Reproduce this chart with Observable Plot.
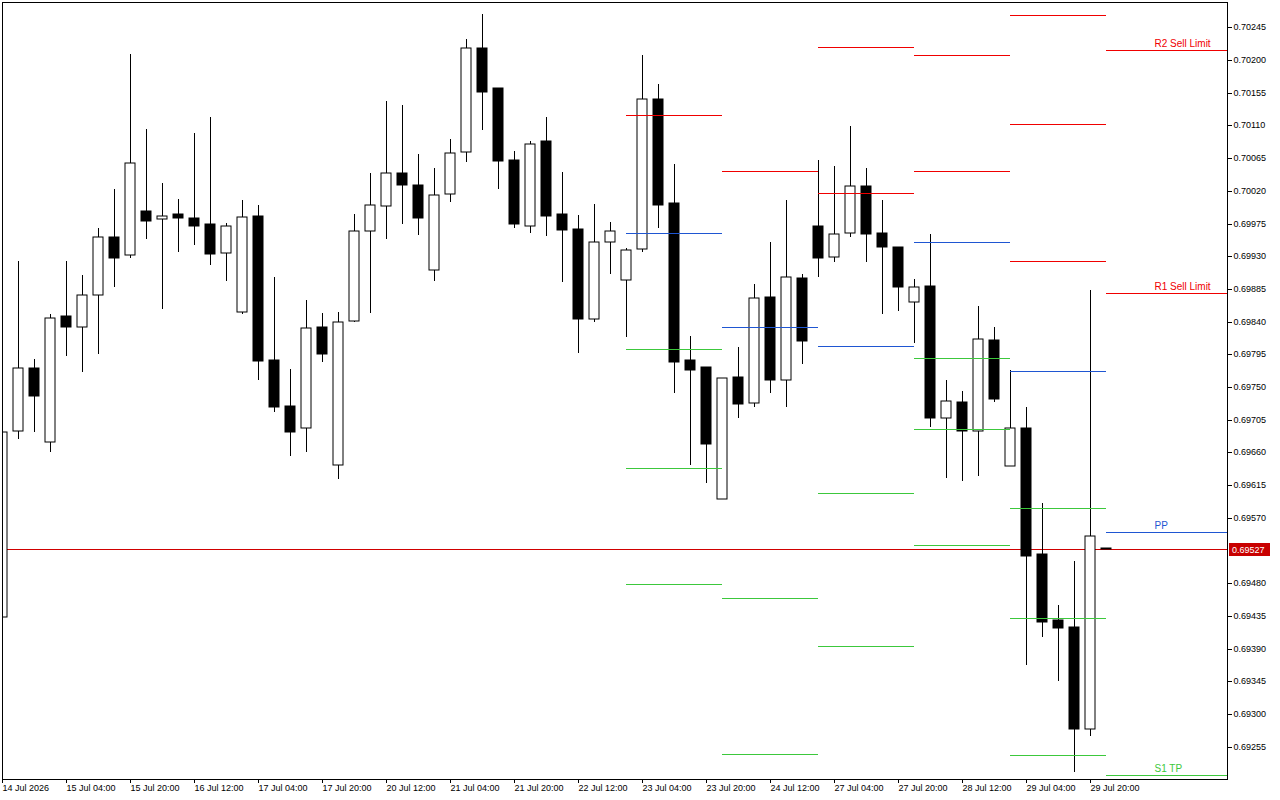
<!DOCTYPE html>
<html>
<head>
<meta charset="utf-8">
<script src="https://cdn.jsdelivr.net/npm/d3@7"></script>
<script src="https://cdn.jsdelivr.net/npm/@observablehq/plot@0.6"></script>
<style>
  html, body { margin: 0; padding: 0; background: #ffffff; }
  #chart svg { display: block; }
</style>
</head>
<body>
<div id="chart"></div>
<script>
// ---- H4 candles, index 0 = 14 Jul 12:00 ... index 69 = 30 Jul 00:00 ----
const opens = [
  0.69434, 0.69689, 0.69776, 0.69675, 0.69848, 0.69832, 0.69876, 0.69956, 0.69931, 0.69992,
  0.69981, 0.69988, 0.69982, 0.69974, 0.69934, 0.69853, 0.69985, 0.69787, 0.69724, 0.69693,
  0.69833, 0.69642, 0.69841, 0.69964, 0.69999, 0.70045, 0.70028, 0.69911, 0.70015, 0.70073,
  0.70216, 0.70161, 0.70062, 0.69971, 0.70088, 0.69988, 0.69967, 0.69843, 0.69949, 0.69897,
  0.69940, 0.70146, 0.70003, 0.69787, 0.69778, 0.69596, 0.69764, 0.69728, 0.69874, 0.69759,
  0.69900, 0.69972, 0.69929, 0.69962, 0.70027, 0.69962, 0.69943, 0.69867, 0.69889, 0.69708,
  0.69730, 0.69690, 0.69815, 0.69641, 0.69694, 0.69520, 0.69430, 0.69420, 0.69280, 0.69529
];
const highs = [
  0.69692, 0.69923, 0.69789, 0.69850, 0.69923, 0.69904, 0.69969, 0.70023, 0.70208, 0.70105,
  0.70031, 0.70009, 0.70100, 0.70122, 0.69976, 0.70007, 0.70000, 0.69901, 0.69775, 0.69870,
  0.69852, 0.69853, 0.69988, 0.70045, 0.70144, 0.70138, 0.70071, 0.70051, 0.70091, 0.70229,
  0.70263, 0.70162, 0.70075, 0.70089, 0.70122, 0.70046, 0.69987, 0.70002, 0.69977, 0.69941,
  0.70207, 0.70167, 0.70057, 0.69820, 0.69778, 0.69763, 0.69805, 0.69892, 0.69950, 0.70007,
  0.69906, 0.70062, 0.70054, 0.70109, 0.70051, 0.70007, 0.69943, 0.69899, 0.69961, 0.69760,
  0.69745, 0.69862, 0.69833, 0.69773, 0.69723, 0.69591, 0.69450, 0.69510, 0.69884, 0.69529
];
const lows = [
  0.69425, 0.69679, 0.69688, 0.69660, 0.69792, 0.69771, 0.69796, 0.69887, 0.69928, 0.69953,
  0.69858, 0.69936, 0.69946, 0.69918, 0.69896, 0.69850, 0.69759, 0.69715, 0.69655, 0.69660,
  0.69785, 0.69624, 0.69840, 0.69852, 0.69953, 0.69975, 0.69959, 0.69896, 0.70004, 0.70059,
  0.70104, 0.70022, 0.69969, 0.69962, 0.69958, 0.69895, 0.69797, 0.69840, 0.69905, 0.69819,
  0.69936, 0.69969, 0.69742, 0.69642, 0.69618, 0.69596, 0.69708, 0.69723, 0.69742, 0.69723,
  0.69781, 0.69902, 0.69922, 0.69957, 0.69922, 0.69850, 0.69855, 0.69810, 0.69695, 0.69625,
  0.69621, 0.69628, 0.69729, 0.69641, 0.69368, 0.69406, 0.69346, 0.69220, 0.69270, 0.69527
];
const closes = [
  0.69688, 0.69776, 0.69738, 0.69845, 0.69832, 0.69876, 0.69956, 0.69928, 0.70058, 0.69979,
  0.69986, 0.69982, 0.69972, 0.69933, 0.69971, 0.69984, 0.69786, 0.69723, 0.69688, 0.69831,
  0.69796, 0.69840, 0.69964, 0.70000, 0.70044, 0.70028, 0.69983, 0.70014, 0.70072, 0.70216,
  0.70156, 0.70061, 0.69975, 0.70084, 0.69986, 0.69966, 0.69843, 0.69949, 0.69964, 0.69938,
  0.70147, 0.70001, 0.69785, 0.69774, 0.69672, 0.69763, 0.69727, 0.69872, 0.69759, 0.69901,
  0.69814, 0.69928, 0.69960, 0.70026, 0.69960, 0.69943, 0.69887, 0.69887, 0.69708, 0.69731,
  0.69690, 0.69816, 0.69733, 0.69694, 0.69518, 0.69427, 0.69419, 0.69280, 0.69545, 0.69527
];

// ---- x axis tick labels (every 4th bar) ----
const xTickIdx = [0, 4, 8, 12, 16, 20, 24, 28, 32, 36, 40, 44, 48, 52, 56, 60, 64, 68];
const xTickLabels = [
  "14 Jul 2026", "15 Jul 04:00", "15 Jul 20:00", "16 Jul 12:00", "17 Jul 04:00", "17 Jul 20:00",
  "20 Jul 12:00", "21 Jul 04:00", "21 Jul 20:00", "22 Jul 12:00", "23 Jul 04:00", "23 Jul 20:00",
  "24 Jul 12:00", "27 Jul 04:00", "27 Jul 20:00", "28 Jul 12:00", "29 Jul 04:00", "29 Jul 20:00"
];

// ---- y axis ticks ----
const yTicks = [
  0.69255, 0.69300, 0.69345, 0.69390, 0.69435, 0.69480, 0.69570, 0.69615, 0.69660, 0.69705,
  0.69750, 0.69795, 0.69840, 0.69885, 0.69930, 0.69975, 0.70020, 0.70065, 0.70110, 0.70155,
  0.70200, 0.70245
];

// ---- daily pivot levels (day start bar index) ----
const dayStarts = [39, 45, 51, 57, 63, 69];   // 23, 24, 27, 28, 29, 30 Jul
const r3 = [null,    null,    null,    null,    0.70262, null];
const r2 = [null,    null,    0.70218, 0.70207, 0.70112, 0.70214];
const r1 = [0.70124, 0.70047, 0.70017, 0.70047, 0.69923, 0.69879];
const pp = [0.69962, 0.69832, 0.69806, 0.69950, 0.69772, 0.69551];
const s1 = [0.69802, 0.69460, 0.69604, 0.69790, 0.69583, 0.69216];
const s2 = [0.69638, 0.69245, 0.69394, 0.69692, 0.69432, null];
const s3 = [0.69479, null,    null,    0.69533, 0.69243, null];
const lastDayLabels = { R2: "R2 Sell Limit", R1: "R1 Sell Limit", PP: "PP", S1: "S1 TP" };

const currentPrice = 0.69527;

// ---- colours ----
const RED = "#f00000", BLUE = "#1f56d2", GREEN = "#3cc83c", PRICE = "#d00000";

// ---- build tables ----
const candles = opens.map((o, i) => ({ i, open: o, high: highs[i], low: lows[i], close: closes[i] }));
const xEnd = 1225 / 16;  // right edge of plot area in bar units
const levelSets = [["R3", r3, RED], ["R2", r2, RED], ["R1", r1, RED], ["PP", pp, BLUE],
                   ["S1", s1, GREEN], ["S2", s2, GREEN], ["S3", s3, GREEN]];
const segs = [];
levelSets.forEach(([name, arr, color]) => arr.forEach((v, k) => {
  if (v == null) return;
  const last = k === dayStarts.length - 1;
  segs.push({ name, v, color, x1: dayStarts[k], x2: last ? xEnd : dayStarts[k + 1], last });
}));
const labelSegs = segs.filter(d => d.last && lastDayLabels[d.name]);

const chart = Plot.plot({
  width: 1280,
  height: 800,
  marginTop: 2,
  marginLeft: 2,
  marginRight: 53,
  marginBottom: 21,
  style: { fontFamily: "'Liberation Sans', Arial, sans-serif", fontSize: "9px", color: "black", background: "white", overflow: "visible" },
  x: { domain: [0, xEnd] },
  y: { domain: [0.692106, 0.702798], round: true },
  color: { type: "identity" },
  marks: [
    Plot.ruleY([currentPrice], { y: d => d, stroke: PRICE }),
    Plot.ruleX(candles, { x: "i", y1: "low", y2: "high", stroke: "black", clip: true }),
    Plot.rect(candles, {
      x1: d => d.i - 5 / 16, x2: d => d.i + 5 / 16,
      y1: "open", y2: "close",
      fill: d => (d.close >= d.open ? "white" : "black"),
      stroke: "black", strokeWidth: 1, clip: true
    }),
    Plot.ruleY(segs, { y: "v", x1: "x1", x2: "x2", stroke: "color" }),
    Plot.text(labelSegs, {
      x: 72, y: "v", text: d => lastDayLabels[d.name], fill: "color",
      textAnchor: "start", dy: -7, fontSize: 10
    }),
    Plot.frame({ stroke: "black" }),
    Plot.axisY({ anchor: "right", ticks: yTicks, tickFormat: d => d.toFixed(5), tickSize: 4, tickPadding: 2, label: null, fill: "black" }),
    Plot.axisX({ ticks: xTickIdx, tickFormat: d => xTickLabels[xTickIdx.indexOf(d)], tickSize: 4, tickPadding: 1, textAnchor: "start", label: null, fill: "black" })
  ]
});

document.getElementById("chart").appendChild(chart);

// current price tag on the right axis
const yPx = chart.scale("y").apply(currentPrice);
const svg = d3.select(chart);
const tag = svg.append("g");
tag.append("rect").attr("x", 1229).attr("y", yPx - 6).attr("width", 41).attr("height", 13).attr("fill", "#c80000");
tag.append("text").attr("x", 1232).attr("y", yPx + 0.5).attr("dy", "0.35em")
  .attr("text-anchor", "start").attr("fill", "white").attr("font-size", 9)
  .text(currentPrice.toFixed(5));
</script>
</body>
</html>
